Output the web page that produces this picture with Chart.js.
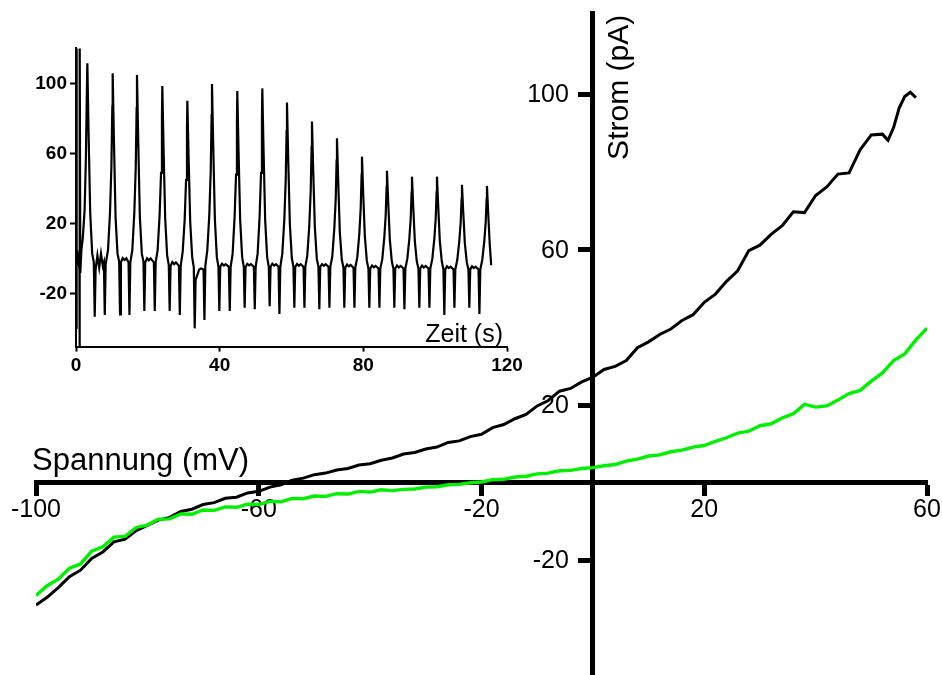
<!DOCTYPE html>
<html>
<head>
<meta charset="utf-8">
<title>Strom-Spannungs-Kennlinie</title>
<script src="https://cdn.jsdelivr.net/npm/chart.js@4.4.1/dist/chart.umd.min.js"></script>
<style>
  html, body { margin: 0; padding: 0; background: #fff; }
  #wrap { position: relative; width: 942px; height: 675px; }
  #mainChart, #insetChart { position: absolute; left: 0; top: 0; }
</style>
</head>
<body>
<div id="wrap">
  <canvas id="mainChart" width="942" height="675"></canvas>
  <canvas id="insetChart" width="540" height="385"></canvas>
</div>
<script>
// Hauptgrafik: Spannung (mV) gegen Strom (pA)
const blackVoltage = [-100, -98, -96, -94, -92, -90, -88, -86, -84, -82, -80, -78, -76, -74, -72, -70, -68, -66, -64, -62,
  -60, -58, -56, -54, -52, -50, -48, -46, -44, -42, -40, -38, -36, -34, -32, -30, -28, -26, -24, -22,
  -20, -18, -16, -14, -12, -10, -8, -6, -4, -2, 0, 2, 4, 6, 8, 10, 12, 14, 16, 18,
  20, 22, 24, 26, 28, 30, 32, 34, 36, 38, 40, 42, 44, 46, 48, 50, 52, 53, 54, 55, 56, 57, 58];
const blackCurrent = [-31.5, -29.5, -27, -24.2, -22.5, -19.5, -17.8, -15.2, -14.5, -12.3, -11, -9.6, -8.9, -7.4, -6.8, -5.6, -5.1, -4, -3.7, -2.6,
  -2.2, -1.1, -0.5, 0.7, 1.2, 2.1, 2.5, 3.3, 3.7, 4.6, 4.9, 5.8, 6.4, 7.4, 7.8, 8.7, 9.2, 10.4, 10.8, 11.9,
  12.5, 14.2, 15, 16.5, 17.6, 19.8, 21.2, 23.6, 24.3, 26, 27.2, 29.2, 30, 31.5, 34.8, 36.3, 38.2, 39.6, 41.8, 43.3,
  46.5, 48.6, 51.9, 54.6, 59.8, 61.2, 64, 66.2, 69.8, 69.6, 74, 76.2, 79.5, 79.8, 85.8, 89.6, 89.8, 88.2, 91.5, 96.5, 99.5, 100.6, 99.2];

const greenVoltage = [-100, -98, -96, -94, -92, -90, -88, -86, -84, -82, -80, -78, -76, -74, -72, -70, -68, -66, -64, -62,
  -60, -58, -56, -54, -52, -50, -48, -46, -44, -42, -40, -38, -36, -34, -32, -30, -28, -26, -24, -22,
  -20, -18, -16, -14, -12, -10, -8, -6, -4, -2, 0, 2, 4, 6, 8, 10, 12, 14, 16, 18,
  20, 22, 24, 26, 28, 30, 32, 34, 36, 38, 40, 42, 44, 46, 48, 50, 52, 54, 56, 58, 60];
const greenCurrent = [-29, -26.5, -24.8, -22, -20.9, -17.6, -16.5, -14, -13.8, -11.5, -10.9, -9.4, -9.3, -8, -8.1, -7, -7.1, -6.2, -6.3, -5.5,
  -5.6, -4.8, -4.9, -4, -4.1, -3.4, -3.5, -2.8, -2.9, -2.2, -2.4, -1.8, -2, -1.7, -1.6, -1.1, -1, -0.5, -0.4, 0,
  0.2, 0.8, 0.9, 1.5, 1.7, 2.3, 2.5, 3.1, 3.2, 3.7, 3.9, 4.4, 4.7, 5.6, 6.1, 6.9, 7.2, 8, 8.4, 9.2,
  9.6, 10.7, 11.6, 12.8, 13.3, 14.7, 15.2, 16.7, 17.8, 20.2, 19.5, 19.8, 21.3, 23, 23.8, 26.2, 28.3, 31.5, 33.2, 36.8, 39.8];

const xTicks = [-100, -60, -20, 20, 60];
const yTicks = [100, 60, 20, -20];

// Einschub: Strom gegen Zeit (s)
const insetTime = [0, 0.1, 0.25, 0.5, 0.75, 0.95, 1.0, 1.05, 1.2, 1.5, 1.9, 2.4, 2.75, 3.0, 3.16,
  3.51, 3.96, 4.51, 4.96, 5.21, 5.46, 5.96, 6.46, 6.96, 7.46, 7.76, 8.01, 8.26, 8.91, 9.46, 9.86, 10.11, 10.21,
  10.56, 11.01, 11.56, 12.01, 12.26, 12.51, 13.01, 13.51, 14.01, 14.63, 14.88, 15.13, 15.68, 16.23, 16.63, 16.88, 16.98,
  17.33, 17.78, 18.33, 18.78, 19.03, 19.28, 19.78, 20.28, 20.78, 21.68, 21.93, 22.18, 22.73, 23.28, 23.68, 23.93, 24.03,
  24.38, 24.83, 25.38, 25.83, 26.08, 26.33, 26.83, 27.33, 27.83, 28.65, 28.9, 29.15, 29.7, 30.25, 30.65, 30.9, 31.0,
  31.35, 31.8, 32.35, 32.8, 33.05, 33.3, 33.8, 34.3, 34.8, 35.51, 35.76, 36.01, 36.56, 37.11, 37.51, 37.76, 37.86,
  38.21, 38.66, 39.21, 39.66, 39.91, 40.16, 40.66, 41.16, 41.66, 42.56, 42.81, 43.06, 43.61, 44.16, 44.56, 44.81, 44.91,
  45.26, 45.71, 46.26, 46.71, 46.96, 47.21, 47.71, 48.21, 48.71, 49.52, 49.77, 50.02, 50.57, 51.12, 51.52, 51.77, 51.87,
  52.22, 52.67, 53.22, 53.67, 53.92, 54.17, 54.67, 55.17, 55.67, 56.39, 56.64, 56.89, 57.44, 57.99, 58.39, 58.64, 58.74,
  59.09, 59.54, 60.09, 60.54, 60.79, 61.04, 61.54, 62.04, 62.54, 63.35, 63.6, 63.85, 64.4, 64.95, 65.35, 65.6, 65.7,
  66.05, 66.5, 67.05, 67.5, 67.75, 68.0, 68.5, 69.0, 69.5, 70.31, 70.56, 70.81, 71.36, 71.91, 72.31, 72.56, 72.66,
  73.01, 73.46, 74.01, 74.46, 74.71, 74.96, 75.46, 75.96, 76.46, 77.27, 77.52, 77.77, 78.32, 78.87, 79.27, 79.52, 79.62,
  79.97, 80.42, 80.97, 81.42, 81.67, 81.92, 82.42, 82.92, 83.42, 84.23, 84.48, 84.73, 85.28, 85.83, 86.23, 86.48, 86.58,
  86.93, 87.38, 87.93, 88.38, 88.63, 88.88, 89.38, 89.88, 90.38, 91.19, 91.44, 91.69, 92.24, 92.79, 93.19, 93.44, 93.54,
  93.89, 94.34, 94.89, 95.34, 95.59, 95.84, 96.34, 96.84, 97.34, 98.15, 98.4, 98.65, 99.2, 99.75, 100.15, 100.4, 100.5,
  100.85, 101.3, 101.85, 102.3, 102.55, 102.8, 103.3, 103.8, 104.3, 105.11, 105.36, 105.61, 106.16, 106.71, 107.11, 107.36, 107.46,
  107.81, 108.26, 108.81, 109.26, 109.51, 109.76, 110.26, 110.76, 111.26, 112.07, 112.32, 112.57, 113.12, 113.67, 114.07, 114.32, 114.42,
  114.77, 115.2, 115.6];
const insetCurrent = [130, -40, -2, 1.5, -2.5, 0, -50, 130, -8, 5, 12, 28, 57, 92, 111.5,
  71, 26, 3, -2, -33, -6, 2, -5, 3, -4, -2, -32, -3, 5, 26, 53, 87, 105.8,
  68, 24, 3, -1.5, -31.6, -2, 0.5, -0.6, 0.4, -2, -32, -2, 5, 26, 52, 86, 104.9,
  67, 24, 3, -1.5, -29.7, -2, 0.4, -0.8, 0.3, -2, -29.7, -2, 5, 25, 49, 81, 98.6,
  63, 23, 2, -3.5, -29.7, -4, -1.8, -3, -2, -4, -32, -4, 4, 22, 45, 74, 90.2,
  58, 21, 1, -5, -39.6, -12, -9, -6, -5.5, -6, -34.8, -4, 5, 25, 50, 82, 99.7,
  64, 23, 1, -4.5, -29.7, -4.5, -2.8, -3.8, -3, -4.5, -29.7, -4.5, 3, 24, 48, 78, 95.7,
  61, 22, 1, -4.5, -27.8, -4.5, -2.9, -3.7, -3, -4.5, -28.7, -4.5, 3, 24, 49, 80, 97.2,
  62, 22, 1, -4.5, -27, -4.5, -2.8, -3.8, -3, -4.5, -31.4, -4.5, 3, 22, 45, 73, 89.1,
  57, 20, 0.5, -4.5, -27.8, -4.5, -2.9, -3.9, -3, -4.5, -27.8, -4.5, 2, 19, 39, 64, 78.3,
  50, 18, 0, -4.5, -28.7, -4.5, -3, -3.9, -3, -4.5, -27.8, -4.5, 1.5, 17, 34, 56, 68.8,
  44, 15, -0.5, -5, -27.8, -5, -3.2, -4.2, -3.4, -5, -27.8, -5, 1, 14, 29, 48, 58.3,
  37, 13, -1, -5.5, -27.8, -5.5, -3.8, -4.8, -4, -5.5, -27.8, -5.5, 0, 12, 25, 41, 50.2,
  32, 11, -1.5, -5.5, -27.8, -5.5, -3.8, -4.9, -4, -5.5, -28.7, -5.5, 0, 11, 23, 38, 46.9,
  30, 10, -1.5, -5.5, -27.8, -5.5, -3.8, -4.9, -4, -5.5, -27.8, -5.5, 0, 11, 23, 38, 46.9,
  30, 10, -1.5, -6, -32, -6, -4.2, -5.2, -4.4, -6, -27.8, -6, -0.5, 10, 21, 34, 42.2,
  27, 9, -2, -6, -27.8, -6, -4.2, -5.2, -4.4, -6, -31.4, -6, -0.5, 10, 21, 34, 41.6,
  26, 8, -3.6];

const insetXTicks = [0, 40, 80, 120];
const insetYTicks = [100, 60, 20, -20];

const toPoints = (xs, ys) => xs.map((x, i) => ({ x: x, y: ys[i] }));
const mainFont = '"Liberation Sans", Arial, sans-serif';

// Achsentitel und y-Beschriftung der Hauptgrafik
const axisTitles = {
  id: 'axisTitles',
  afterDraw(chart) {
    const ctx = chart.ctx;
    const xs = chart.scales.x;
    const ys = chart.scales.y;
    const x0 = xs.getPixelForValue(0);
    ctx.save();
    ctx.fillStyle = '#000';

    ctx.font = '25px ' + mainFont;
    ctx.textAlign = 'right';
    ctx.textBaseline = 'middle';
    yTicks.forEach(v => ctx.fillText(String(v), x0 - 24, ys.getPixelForValue(v) + 1));

    ctx.textBaseline = 'alphabetic';
    ctx.textAlign = 'left';
    ctx.font = '31px ' + mainFont;
    ctx.fillText('Spannung (mV)', xs.getPixelForValue(-100) - 4, ys.getPixelForValue(0) - 13);

    ctx.font = '30px ' + mainFont;
    ctx.translate(x0 + 35, ys.getPixelForValue(120) + 143);
    ctx.rotate(-Math.PI / 2);
    ctx.fillText('Strom (pA)', 0, 0);
    ctx.restore();
  }
};

new Chart(document.getElementById('mainChart'), {
  type: 'line',
  data: {
    datasets: [
      {
        label: 'grün',
        data: toPoints(greenVoltage, greenCurrent),
        borderColor: '#00ee00',
        borderWidth: 3.4,
        pointRadius: 0,
        tension: 0
      },
      {
        label: 'schwarz',
        data: toPoints(blackVoltage, blackCurrent),
        borderColor: '#000000',
        borderWidth: 3,
        pointRadius: 0,
        tension: 0
      }
    ]
  },
  options: {
    responsive: false,
    animation: false,
    layout: { padding: { left: 36, right: 15, top: 13, bottom: 0 } },
    plugins: { legend: { display: false }, tooltip: { enabled: false } },
    scales: {
      x: {
        type: 'linear',
        min: -100,
        max: 60,
        position: { y: 0 },
        afterBuildTicks: (s) => { s.ticks = xTicks.map(v => ({ value: v })); },
        afterFit: (s) => { s.height = 0; s.paddingTop = 0; s.paddingBottom = 0; },
        grid: { drawOnChartArea: false, drawTicks: true, tickLength: 11, tickWidth: 5, tickColor: '#000' },
        border: { color: '#000', width: 5 },
        ticks: {
          color: '#000',
          padding: 1,
          maxRotation: 0,
          autoSkip: false,
          font: { family: mainFont, size: 25 }
        }
      },
      y: {
        type: 'linear',
        min: -49.5,
        max: 121,
        position: { x: 0 },
        afterBuildTicks: (s) => { s.ticks = yTicks.map(v => ({ value: v })); },
        afterFit: (s) => { s.width = 0; s.paddingTop = 0; s.paddingBottom = 0; },
        grid: { drawOnChartArea: false, drawTicks: true, tickLength: 12, tickWidth: 5, tickColor: '#000' },
        border: { color: '#000', width: 5 },
        ticks: { display: false }
      }
    }
  },
  plugins: [axisTitles]
});

const insetTitle = {
  id: 'insetTitle',
  afterDraw(chart) {
    const ctx = chart.ctx;
    ctx.save();
    ctx.fillStyle = '#000';
    ctx.font = '25px ' + mainFont;
    ctx.textAlign = 'right';
    ctx.textBaseline = 'alphabetic';
    ctx.fillText('Zeit (s)', chart.scales.x.getPixelForValue(120) - 4, chart.chartArea.bottom - 5);
    ctx.restore();
  }
};

new Chart(document.getElementById('insetChart'), {
  type: 'line',
  data: {
    datasets: [{
      label: 'Zeitverlauf',
      data: toPoints(insetTime, insetCurrent),
      borderColor: '#000',
      borderWidth: 2.2,
      pointRadius: 0,
      tension: 0
    }]
  },
  options: {
    responsive: false,
    animation: false,
    layout: { padding: { left: 0, right: 33, top: 48.4, bottom: 0 } },
    plugins: { legend: { display: false }, tooltip: { enabled: false } },
    scales: {
      x: {
        type: 'linear',
        min: 0,
        max: 120,
        afterBuildTicks: (s) => { s.ticks = insetXTicks.map(v => ({ value: v })); },
        afterFit: (s) => { s.height = 38.4; },
        grid: { drawOnChartArea: false, tickLength: 5, tickWidth: 2, tickColor: '#000' },
        border: { color: '#000', width: 2 },
        ticks: {
          color: '#000',
          padding: 3,
          maxRotation: 0,
          autoSkip: false,
          font: { family: mainFont, size: 19, weight: 'bold' }
        }
      },
      y: {
        type: 'linear',
        min: -50,
        max: 120,
        afterBuildTicks: (s) => { s.ticks = insetYTicks.map(v => ({ value: v })); },
        afterFit: (s) => { s.width = 76; },
        grid: { drawOnChartArea: false, tickLength: 6, tickWidth: 2, tickColor: '#000' },
        border: { color: '#000', width: 2 },
        ticks: {
          color: '#000',
          padding: 3,
          autoSkip: false,
          font: { family: mainFont, size: 19, weight: 'bold' }
        }
      }
    }
  },
  plugins: [insetTitle]
});
</script>
</body>
</html>
